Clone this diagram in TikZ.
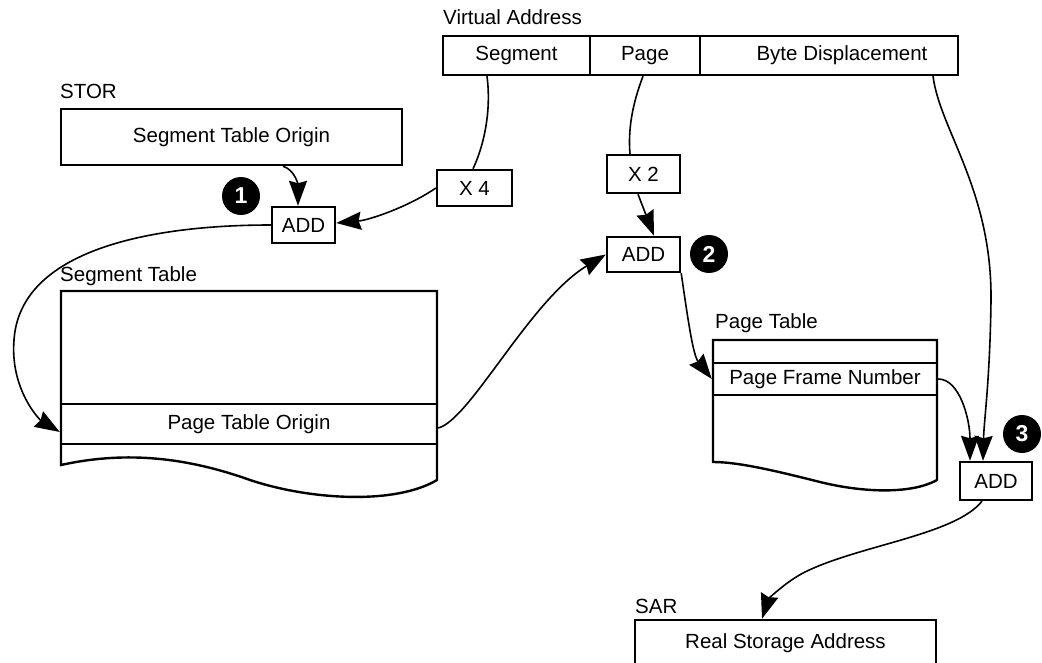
\documentclass[tikz,border=0pt]{standalone}
\usepackage{fontspec}
\setmainfont{Liberation Sans}
\usetikzlibrary{arrows.meta}
\begin{document}
\begin{tikzpicture}[x=1pt,y=-1pt,
  every node/.style={font=\fontsize{20.5}{23}\selectfont, inner sep=0pt},
  box/.style={draw, line width=2.4pt, rectangle},
  lbl/.style={anchor=base west},
  conn/.style={line width=1.6pt},
  arr/.style={conn, -{Stealth[length=25pt,width=18pt,inset=2.5pt]}},
  num/.style={circle, fill=black, text=white, minimum size=38pt, font=\fontsize{23}{25}\selectfont\bfseries},
  outline/.style={line width=2.4pt, line join=miter}
]
\useasboundingbox (0,0) rectangle (1042,663);

% labels
\node[lbl] (valbl) at (443,25) {Virtual Address};
\node[lbl] (storlbl) at (60,99) {STOR};
\node[lbl] (stlbl) at (60,282) {Segment Table};
\node[lbl] (ptlbl) at (715,328) {Page Table};
\node[lbl] (sarlbl) at (635,613) {SAR};

% virtual address fields
\node[box, minimum width=147pt, minimum height=39pt] (seg) at (516.5,55.5) {Segment};
\node[box, minimum width=110pt, minimum height=39pt] (pg) at (645,55.5) {Page};
\node[box, minimum width=258pt, minimum height=39pt] (byte) at (829,55.5) {\hspace*{26pt}Byte Displacement};

% STOR
\node[box, minimum width=341pt, minimum height=56pt] (sto) at (231.5,137) {Segment Table Origin};

% operators
\node[box, minimum width=63pt, minimum height=36pt] (add1) at (303.5,225) {ADD};
\node[box, minimum width=75pt, minimum height=36pt] (x4) at (474.5,188) {X 4};
\node[box, minimum width=73pt, minimum height=38pt] (x2) at (643.5,174) {X 2};
\node[box, minimum width=73pt, minimum height=35pt] (add2) at (643.5,254.5) {ADD};
\node[box, minimum width=72pt, minimum height=38pt] (add3) at (996,481) {ADD};

% step numbers
\node[num] (n1) at (241,196) {1};
\node[num] (n2) at (709,254) {2};
\node[num] (n3) at (1022,434) {3};

% segment table
\draw[outline] (61,291) -- (437,291) -- (437,480)
  .. controls (395,505) and (310,500) .. (250,480)
  .. controls (180,455) and (120,452) .. (61,465) -- cycle;
\node[box, minimum width=376pt, minimum height=40pt] (pto) at (249,424) {Page Table Origin};

% page table
\draw[outline] (713,340) -- (937,340) -- (937,480)
  .. controls (910,495) and (860,492) .. (820,482)
  .. controls (780,472) and (740,462) .. (713,462) -- cycle;
\node[box, minimum width=224pt, minimum height=32pt] (pfn) at (825,379) {Page Frame Number};

% SAR
\node[box, minimum width=301pt, minimum height=50pt] (sar) at (785.5,645) {\raisebox{7pt}{Real Storage Address}};

% connectors
\draw[conn] ([xshift=-29.5pt]seg.south) .. controls (492,115) and (482,150) .. ([xshift=-1.5pt]x4.north);
\draw[arr] (x4.west) .. controls (410,206) and (370,220) .. ([yshift=2pt]add1.east);
\draw[arr] ([xshift=51.5pt]sto.south) .. controls (295,170) and (298,185) .. ([xshift=-5.5pt]add1.north);
\draw[arr] (add1.west) .. controls (150,225) and (20,250) .. (14,340)
  .. controls (10,390) and (40,420) .. ([yshift=-8pt]pto.west);
\draw[arr] ([yshift=-4pt]pto.east) .. controls (470,420) and (530,300) .. (add2.west);
\draw[conn] ([xshift=-2pt]pg.south) .. controls (632,105) and (628,130) .. ([xshift=-13.5pt]x2.north);
\draw[arr] ([xshift=-5.5pt]x2.south) -- ([xshift=10.5pt]add2.north);
\draw[arr] (add2.south east) .. controls (688,320) and (693,355) .. (pfn.west);
\draw[arr] (pfn.east) .. controls (960,379) and (970,420) .. ([xshift=-26pt]add3.north);
\draw[arr] ([xshift=104pt]byte.south) .. controls (940,130) and (992,190) .. (991,300)
  .. controls (990,380) and (984,420) .. ([xshift=-13pt]add3.north);
\draw[arr] ([xshift=-14pt]add3.south) .. controls (955,535) and (860,545) .. (805,572)
  .. controls (785,582) and (768,600) .. ([xshift=-23.5pt]sar.north);
\end{tikzpicture}
\end{document}
